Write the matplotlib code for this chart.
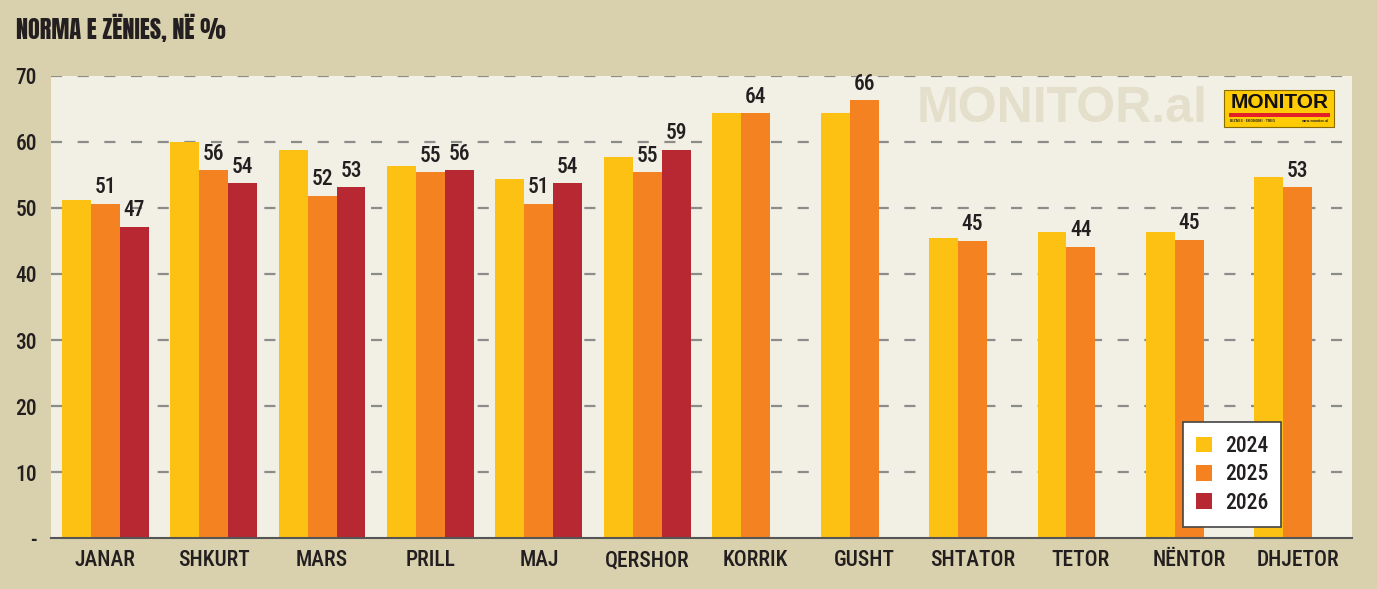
import numpy as np
import matplotlib
matplotlib.use('Agg')
import matplotlib.pyplot as plt
from matplotlib import font_manager
from matplotlib.patches import Rectangle

# data
months = ['JANAR', 'SHKURT', 'MARS', 'PRILL', 'MAJ', 'QERSHOR', 'KORRIK',
          'GUSHT', 'SHTATOR', 'TETOR', 'NËNTOR', 'DHJETOR']
y2024 = [51.2, 60.0, 58.8, 56.3, 54.3, 57.7, 64.3, 64.3, 45.5, 46.3, 46.3, 54.6]
y2025 = [50.6, 55.7, 51.8, 55.4, 50.6, 55.4, 64.3, 66.3, 45.0, 44.1, 45.2, 53.1]
y2026 = [47.1, 53.75, 53.1, 55.7, 53.7, 58.8]  # only first six months
years = ['2024', '2025', '2026']
yticks = [0, 10, 20, 30, 40, 50, 60, 70]
ytick_labels = ['-', '10', '20', '30', '40', '50', '60', '70']

c24, c25, c26 = '#FDC113', '#F58220', '#B82832'
fig_bg, ax_bg = '#D9D1AD', '#F2F0E4'
txt = '#231F20'


def pick(cands):
    for name in cands:
        try:
            font_manager.findfont(name, fallback_to_default=False)
            return name
        except Exception:
            pass
    return 'DejaVu Sans'

narrow = pick(['Roboto Condensed', 'Archivo Narrow', 'Asap Condensed',
               'Liberation Sans Narrow'])
heavy = pick(['Anton', 'Oswald', 'Archivo Black'])
plt.rcParams['font.family'] = [narrow, 'DejaVu Sans']
plt.rcParams['font.weight'] = 'medium'

W, H = 1377, 589
fig = plt.figure(figsize=(W / 100, H / 100), dpi=100, facecolor=fig_bg)
ax = fig.add_axes([51 / W, 1 - 538.3 / H, 1301 / W, 462.6 / H])
ax.set_facecolor(ax_bg)

x = np.arange(len(months))
bw = 0.267
ax.bar(x - bw, y2024, bw, color=c24, label=years[0], zorder=3)
b25 = ax.bar(x, y2025, bw, color=c25, label=years[1], zorder=3)
b26 = ax.bar(x[:len(y2026)] + bw, y2026, bw, color=c26, label=years[2], zorder=3)

for bars in (b25, b26):
    ax.bar_label(bars, labels=[f'{v:.0f}' for v in bars.datavalues],
                 padding=4, fontsize=15.5, color=txt)

ax.set_xlim(-0.5, len(months) - 0.5)
ax.set_ylim(0, 70)
ax.set_yticks(yticks)
ax.set_yticklabels(ytick_labels)
ax.set_xticks(x)
ax.set_xticklabels(months)
ax.tick_params(axis='y', length=0, pad=10, labelsize=15.5, labelcolor=txt)
ax.tick_params(axis='x', length=0, pad=8, labelsize=15.5, labelcolor=txt)

for y in yticks[1:]:
    ax.axhline(y, color='#8C8C8C', lw=1.6, ls=(0, (5, 7)), zorder=1)

for s in ('top', 'right', 'left'):
    ax.spines[s].set_visible(False)
ax.spines['bottom'].set_color('#555555')
ax.spines['bottom'].set_linewidth(1.5)
ax.spines['bottom'].set_zorder(4)

leg = ax.legend(loc='upper left', bbox_to_anchor=(0.870, 0.2514), borderaxespad=0,
                fontsize=15.5, frameon=True, fancybox=False, handlelength=0.75,
                handleheight=0.75, handletextpad=0.6, labelspacing=0.3,
                borderpad=0.6, labelcolor=txt)
leg.get_frame().set_edgecolor('#444444')
leg.get_frame().set_linewidth(1.2)
leg.get_frame().set_facecolor('white')
leg.get_frame().set_alpha(1)

# title
fig.text(16 / W, 1 - 28 / H, 'NORMA E ZËNIES, NË %', fontsize=17.5,
         color=txt, va='center', ha='left', family=[heavy, 'DejaVu Sans'])

# watermark and logo
fig.text(917 / W, 1 - 109 / H, 'MONITOR.al', fontsize=36, fontweight='bold',
         color='#E4DFCB', va='center', ha='left', family='Liberation Sans', zorder=2)
fig.add_artist(Rectangle((1224 / W, 1 - 126.7 / H), 110 / W, 36.7 / H,
                         transform=fig.transFigure, facecolor='#FFCB05',
                         edgecolor='#8A6D00', lw=0.8, zorder=5))
fig.add_artist(Rectangle((1229 / W, 1 - 116.7 / H), 101 / W, 3.4 / H,
                         transform=fig.transFigure, facecolor='#E3202A',
                         edgecolor='none', zorder=6))
fig.text(1279.5 / W, 1 - 103 / H, 'MONITOR', fontsize=15, fontweight='heavy',
         color='#111111', va='center', ha='center', family='Liberation Sans', zorder=7)
fig.text(1230 / W, 1 - 121.5 / H, 'BIZNES · EKONOMI · TREG', fontsize=3.2,
         color='#222222', va='center', ha='left', zorder=7)
fig.text(1329 / W, 1 - 121.5 / H, 'www.monitor.al', fontsize=3.2,
         color='#222222', va='center', ha='right', zorder=7)

fig.savefig('out.png', dpi=100, facecolor=fig_bg)
